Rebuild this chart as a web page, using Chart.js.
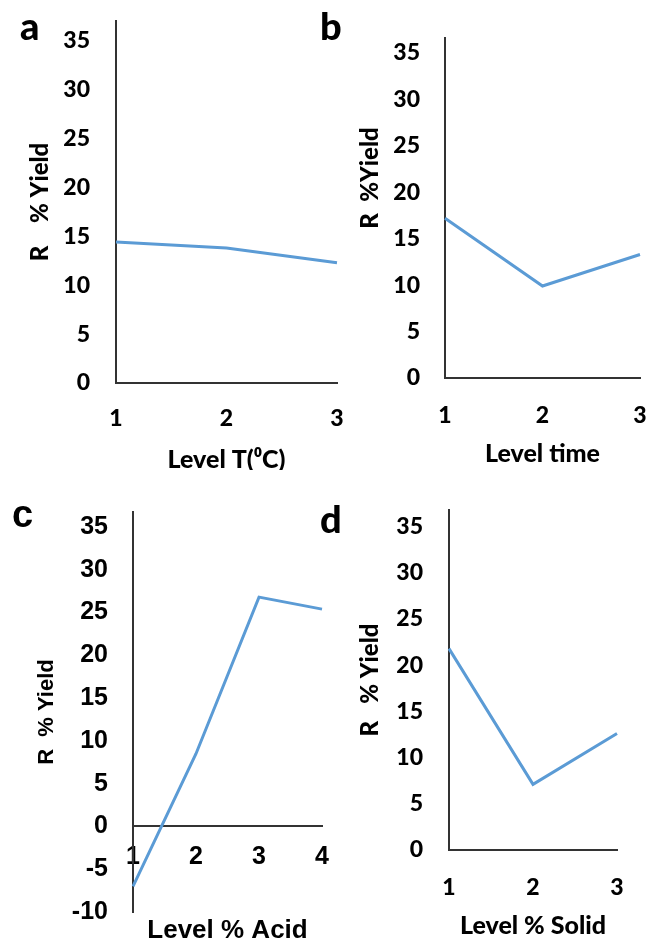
<!DOCTYPE html>
<html lang="en">
<head>
<meta charset="UTF-8">
<title>Level vs R % Yield</title>
<script src="https://cdn.jsdelivr.net/npm/chart.js"></script>
<style>
  body { margin: 0; background: #fff; }
  #page { position: relative; width: 647px; height: 944px; }
  canvas { position: absolute; }
  #chartA { left: 0; top: 0; }
  #chartB { left: 310px; top: 0; }
  #chartC { left: 0; top: 470px; }
  #chartD { left: 310px; top: 470px; }
</style>
</head>
<body>
<div id="page">
  <canvas id="chartA" width="345" height="470"></canvas>
  <canvas id="chartB" width="337" height="470"></canvas>
  <canvas id="chartC" width="345" height="474"></canvas>
  <canvas id="chartD" width="337" height="474"></canvas>
</div>
<script>
// x levels of each factor
var levelsTemp  = ['1', '2', '3'];
var levelsTime  = ['1', '2', '3'];
var levelsAcid  = ['1', '2', '3', '4'];
var levelsSolid = ['1', '2', '3'];

// R % Yield
var yieldTemp  = [14.4, 13.8, 12.3];
var yieldTime  = [17.2, 9.9, 13.3];
var yieldAcid  = [-7.0, 8.5, 26.8, 25.4];
var yieldSolid = [21.8, 7.1, 12.6];

var yStep = 5;

var LINE = '#5B9BD5';
var AXIS = '#333333';
var CAL = 'Lato, "Open Sans", sans-serif';
var ARIAL = '"Liberation Sans", Arial, sans-serif';
var HEAVY = '900';

// panel letter drawn in the corner
var panelLetter = {
    id: 'panelLetter',
    afterDraw: function(chart, args, o) {
        var ctx = chart.ctx;
        ctx.save();
        ctx.font = o.font;
        ctx.fillStyle = '#000';
        ctx.textBaseline = 'alphabetic';
        ctx.fillText(o.text, o.x, o.y);
        ctx.restore();
    }
};

function fixWidth(w) {
    return function(s) { s.width = w; s.paddingTop = 0; s.paddingBottom = 0; };
}
function fixHeight(h) {
    return function(s) { s.height = h; s.paddingLeft = 0; s.paddingRight = 0; };
}

function yAxis(p) {
    return {
        min: p.min, max: p.max,
        grid: { display: false, drawTicks: false },
        border: { display: true, color: AXIS, width: 2 },
        ticks: { stepSize: yStep, includeBounds: false, padding: p.tickPad, color: '#000',
                 font: { family: p.family, size: p.tickSize, weight: p.weight } },
        title: { display: true, text: p.title, color: '#000', padding: { top: p.titlePad, bottom: 0 },
                 font: { family: p.family, size: p.titleSize, weight: p.weight } },
        afterFit: fixWidth(p.width)
    };
}

function makeChart(id, p) {
    var xScale = {
        type: 'category', offset: false,
        grid: { display: false, drawTicks: false },
        border: { display: true, color: AXIS, width: 2 },
        ticks: { padding: p.xTickPad, color: '#000', maxRotation: 0, autoSkip: false,
                 font: { family: p.family, size: p.tickSize, weight: p.weight } },
        title: { display: !p.zeroAxis, text: p.xTitle, color: '#000', padding: { top: 0, bottom: p.xTitlePad },
                 font: { family: p.family, size: p.xTitleSize, weight: p.weight, lineHeight: 1 } },
        afterFit: fixHeight(p.xHeight)
    };
    var scales = { x: xScale, y: yAxis(p) };
    if (p.zeroAxis) {
        // axis crosses at y = 0, title kept at the bottom on a second axis
        xScale.position = { y: 0 };
        scales.x2 = {
            type: 'category', labels: p.labels, position: 'bottom',
            grid: { display: false, drawTicks: false },
            border: { display: false },
            ticks: { display: false },
            title: { display: true, text: p.xTitle, color: '#000', padding: { top: 0, bottom: p.xTitlePad },
                     font: { family: p.family, size: p.xTitleSize, weight: p.weight, lineHeight: 1 } },
            afterFit: fixHeight(p.xHeight)
        };
    }
    return new Chart(document.getElementById(id), {
        type: 'line',
        data: {
            labels: p.labels,
            datasets: [{
                data: p.data,
                borderColor: LINE,
                borderWidth: 3,
                pointRadius: 0,
                tension: 0,
                fill: false
            }]
        },
        options: {
            responsive: false,
            animation: false,
            devicePixelRatio: 1,
            layout: { padding: p.pad },
            plugins: {
                legend: { display: false },
                tooltip: { enabled: false },
                panelLetter: p.letter
            },
            scales: scales
        },
        plugins: [panelLetter]
    });
}

makeChart('chartA', {
    labels: levelsTemp, data: yieldTemp, min: 0, max: 37,
    family: CAL, weight: HEAVY, tickSize: 23, titleSize: 24, xTitleSize: 25,
    pad: { left: 0, top: 21, right: 8, bottom: 0 },
    width: 116, xHeight: 87, tickPad: 26, xTickPad: 22, titlePad: 26, xTitlePad: -2,
    title: 'R    % Yield', xTitle: 'Level T(\u2070C)',
    letter: { text: 'a', x: 20, y: 40, font: HEAVY + ' 38px ' + CAL }
});

makeChart('chartB', {
    labels: levelsTime, data: yieldTime, min: 0, max: 36.6,
    family: CAL, weight: HEAVY, tickSize: 23, titleSize: 24, xTitleSize: 25,
    pad: { left: 0, top: 38, right: 7, bottom: 0 },
    width: 135, xHeight: 92, tickPad: 25, xTickPad: 24, titlePad: 46, xTitlePad: 4,
    title: '\u2002\u2002\u2002\u2002\u2002R  %Yield', xTitle: 'Level time',
    letter: { text: 'b', x: 10, y: 40, font: HEAVY + ' 38px ' + CAL }
});

makeChart('chartC', {
    labels: levelsAcid, data: yieldAcid, min: -10, max: 36.75, zeroAxis: true,
    family: ARIAL, weight: 'bold', tickSize: 25, titleSize: 22, xTitleSize: 26,
    pad: { left: 0, top: 42, right: 23, bottom: 0 },
    width: 133, xHeight: 32, tickPad: 25, xTickPad: 16, titlePad: 34, xTitlePad: 0,
    title: 'R  % Yield', xTitle: 'Level % Acid',
    letter: { text: 'c', x: 12, y: 57, font: 'bold 38px ' + ARIAL }
});

makeChart('chartD', {
    labels: levelsSolid, data: yieldSolid, min: 0, max: 36.8,
    family: CAL, weight: HEAVY, tickSize: 23, titleSize: 24, xTitleSize: 25,
    pad: { left: 0, top: 40, right: 30, bottom: 0 },
    width: 139, xHeight: 94, tickPad: 26, xTickPad: 24, titlePad: 46, xTitlePad: 6,
    title: 'R   % Yield', xTitle: 'Level % Solid',
    letter: { text: 'd', x: 10, y: 63, font: HEAVY + ' 38px ' + CAL }
});
</script>
</body>
</html>
